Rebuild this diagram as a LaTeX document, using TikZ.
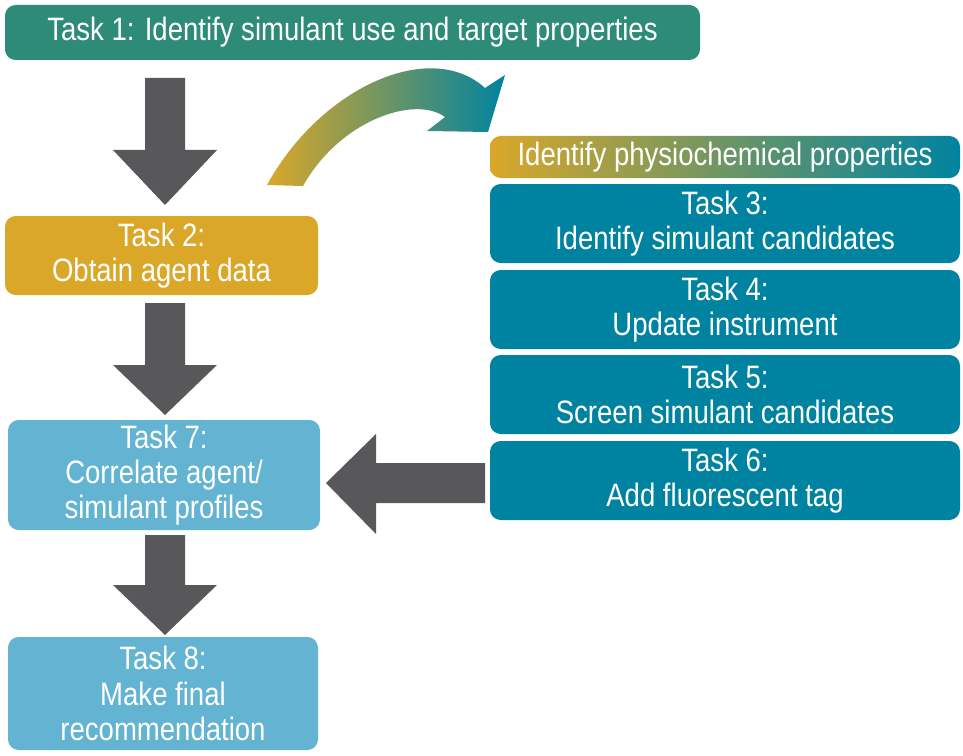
\documentclass[tikz,border=0pt]{standalone}
\usepackage{fontspec}
\setmainfont{Liberation Sans}[FakeStretch=0.85]
\usetikzlibrary{calc}
\definecolor{tgreen}{HTML}{2D8B77}
\definecolor{tgold}{HTML}{DAA729}
\definecolor{tteal}{HTML}{0083A0}
\definecolor{tlight}{HTML}{63B3D2}
\definecolor{tgray}{HTML}{58585A}
\tikzset{
  box/.style={rounded corners=8pt, draw=none, text=white, align=center, inner sep=0pt,
    font=\fontsize{24.3}{26.5}\selectfont},
  garrow/.style={fill=tgray, draw=none},
}
\newcommand\blockdn[4]{% x, ytop, yheadbase, ytip
  \fill[garrow] (#1-20,#2) -- (#1+20,#2) -- (#1+20,#3) -- (#1+52,#3) -- (#1,#4) -- (#1-52,#3) -- (#1-20,#3) -- cycle;}
\begin{document}
\begin{tikzpicture}[x=0.75pt,y=-0.75pt]
\useasboundingbox (0,0) rectangle (963,756);
% left column
\node (t1) [box, fill=tgreen, minimum width=521.25pt, minimum height=41.25pt] at (352.5,32.5)
  {Task 1: Identify simulant use and target properties};
\node (t2) [box, fill=tgold, minimum width=234.75pt, minimum height=59.25pt] at (161.5,255.5)
  {Task 2:\\Obtain agent data};
\node (t7) [box, fill=tlight, minimum width=234pt, minimum height=82.5pt] at (164,475)
  {Task 7:\\Correlate agent/\\simulant profiles};
\node (t8) [box, fill=tlight, minimum width=232.5pt, minimum height=84.75pt] at (163,693.5)
  {Task 8:\\Make final\\recommendation};
% right column
\node (ph) [box, left color=tgold, right color=tteal, minimum width=352.5pt, minimum height=31.5pt] at (725,157)
  {Identify physiochemical properties};
\node (t3) [box, fill=tteal, minimum width=352.5pt, minimum height=59.25pt] at (725,223.5)
  {Task 3:\\Identify simulant candidates};
\node (t4) [box, fill=tteal, minimum width=352.5pt, minimum height=59.25pt] at (725,309.5)
  {Task 4:\\Update instrument};
\node (t5) [box, fill=tteal, minimum width=352.5pt, minimum height=59.25pt] at (725,394.5)
  {Task 5:\\Screen simulant candidates};
\node (t6) [box, fill=tteal, minimum width=352.5pt, minimum height=59.25pt] at (725,480.5)
  {Task 6:\\Add fluorescent tag};
% block arrows
\blockdn{165}{78}{150}{205}
\blockdn{165}{303}{365}{415}
\blockdn{165}{535}{585}{635}
\fill[garrow] (485,463) -- (485,503) -- (376,503) -- (376,534) -- (326,483) -- (376,434) -- (376,463) -- cycle;
% curved gradient arrow
\shade[left color=tgold, right color=tteal]
  (267,185) .. controls (320,88) and (430,38) .. (485,88)
  -- (505,75) -- (488,132) -- (427,131) -- (445,117)
  .. controls (415,95) and (340,120) .. (303,186) -- cycle;
\end{tikzpicture}
\end{document}
